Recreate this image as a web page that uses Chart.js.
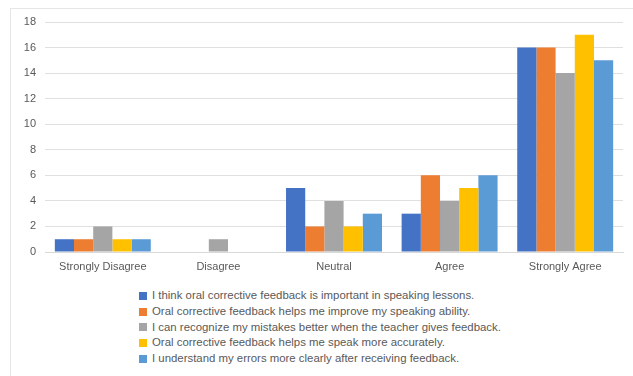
<!DOCTYPE html>
<html>
<head>
<meta charset="utf-8">
<script src="https://cdn.jsdelivr.net/npm/chart.js@4"></script>
<style>
  html, body { margin: 0; padding: 0; background: #fff; }
  body { width: 633px; height: 376px; position: relative; overflow: hidden; font-family: "Liberation Sans", Arial, sans-serif; }
  #frame { position: absolute; left: 10px; top: 8px; width: 640px; height: 380px;
           border-top: 1px solid #e6e6e6; border-left: 1px solid #e6e6e6; }
  #wrap { position: absolute; left: 0; top: 0; width: 633px; height: 280px; }
  #legend { position: absolute; left: 139px; top: 288px; font-size: 11.4px; color: #595959; }
  #legend div { height: 15.8px; line-height: 15.8px; white-space: nowrap; display: flex; align-items: center; }
  #legend span.box { display: inline-block; width: 8px; height: 8px; margin-right: 5px; }
</style>
</head>
<body>
<div id="frame"></div>
<div id="wrap"><canvas id="chart"></canvas></div>
<div id="legend"></div>
<script>
// Respostas por nível de concordância
const categories = ['Strongly Disagree', 'Disagree', 'Neutral', 'Agree', 'Strongly Agree'];
const statements = [
  'I think oral corrective feedback is important in speaking lessons.',
  'Oral corrective feedback helps me improve my speaking ability.',
  'I can recognize my mistakes better when the teacher gives feedback.',
  'Oral corrective feedback helps me speak more accurately.',
  'I understand my errors more clearly after receiving feedback.'
];
const important   = [1, 0, 5, 3, 16];
const improve     = [1, 0, 2, 6, 16];
const recognize   = [2, 1, 4, 4, 14];
const accurately  = [1, 0, 2, 5, 17];
const understand  = [1, 0, 3, 6, 15];
const yTicks = [0, 2, 4, 6, 8, 10, 12, 14, 16, 18];

const colors = ['#4472C4', '#ED7D31', '#A5A5A5', '#FFC000', '#5B9BD5'];
const series = [important, improve, recognize, accurately, understand];

const tickFont = { family: 'Liberation Sans', size: 11 };

const ctx = document.getElementById('chart').getContext('2d');
const chart = new Chart(ctx, {
  type: 'bar',
  data: {
    labels: categories,
    datasets: series.map((values, i) => ({
      label: statements[i],
      data: values,
      backgroundColor: colors[i],
      borderWidth: 0,
      categoryPercentage: 0.83,
      barPercentage: 1.0
    }))
  },
  options: {
    responsive: true,
    maintainAspectRatio: false,
    animation: false,
    layout: { padding: { left: 10, right: 10, top: 22, bottom: 0 } },
    plugins: {
      legend: { display: false },
      tooltip: { enabled: false }
    },
    scales: {
      x: {
        grid: { display: false, drawTicks: false },
        border: { color: '#d9d9d9', width: 1 },
        ticks: { color: '#595959', font: tickFont, padding: 8 },
        afterFit: (scale) => { scale.height = 28; }
      },
      y: {
        min: 0,
        max: 18,
        afterBuildTicks: (scale) => { scale.ticks = yTicks.map(v => ({ value: v })); },
        grid: { color: '#e0e0e0', lineWidth: 1, drawTicks: false },
        border: { display: false },
        ticks: { color: '#595959', font: tickFont, padding: 9 },
        afterFit: (scale) => { scale.width = 35; }
      }
    }
  }
});

// Legenda em lista vertical
const legend = document.getElementById('legend');
chart.data.datasets.forEach(ds => {
  const row = document.createElement('div');
  const box = document.createElement('span');
  box.className = 'box';
  box.style.background = ds.backgroundColor;
  row.appendChild(box);
  row.appendChild(document.createTextNode(ds.label));
  legend.appendChild(row);
});
</script>
</body>
</html>
